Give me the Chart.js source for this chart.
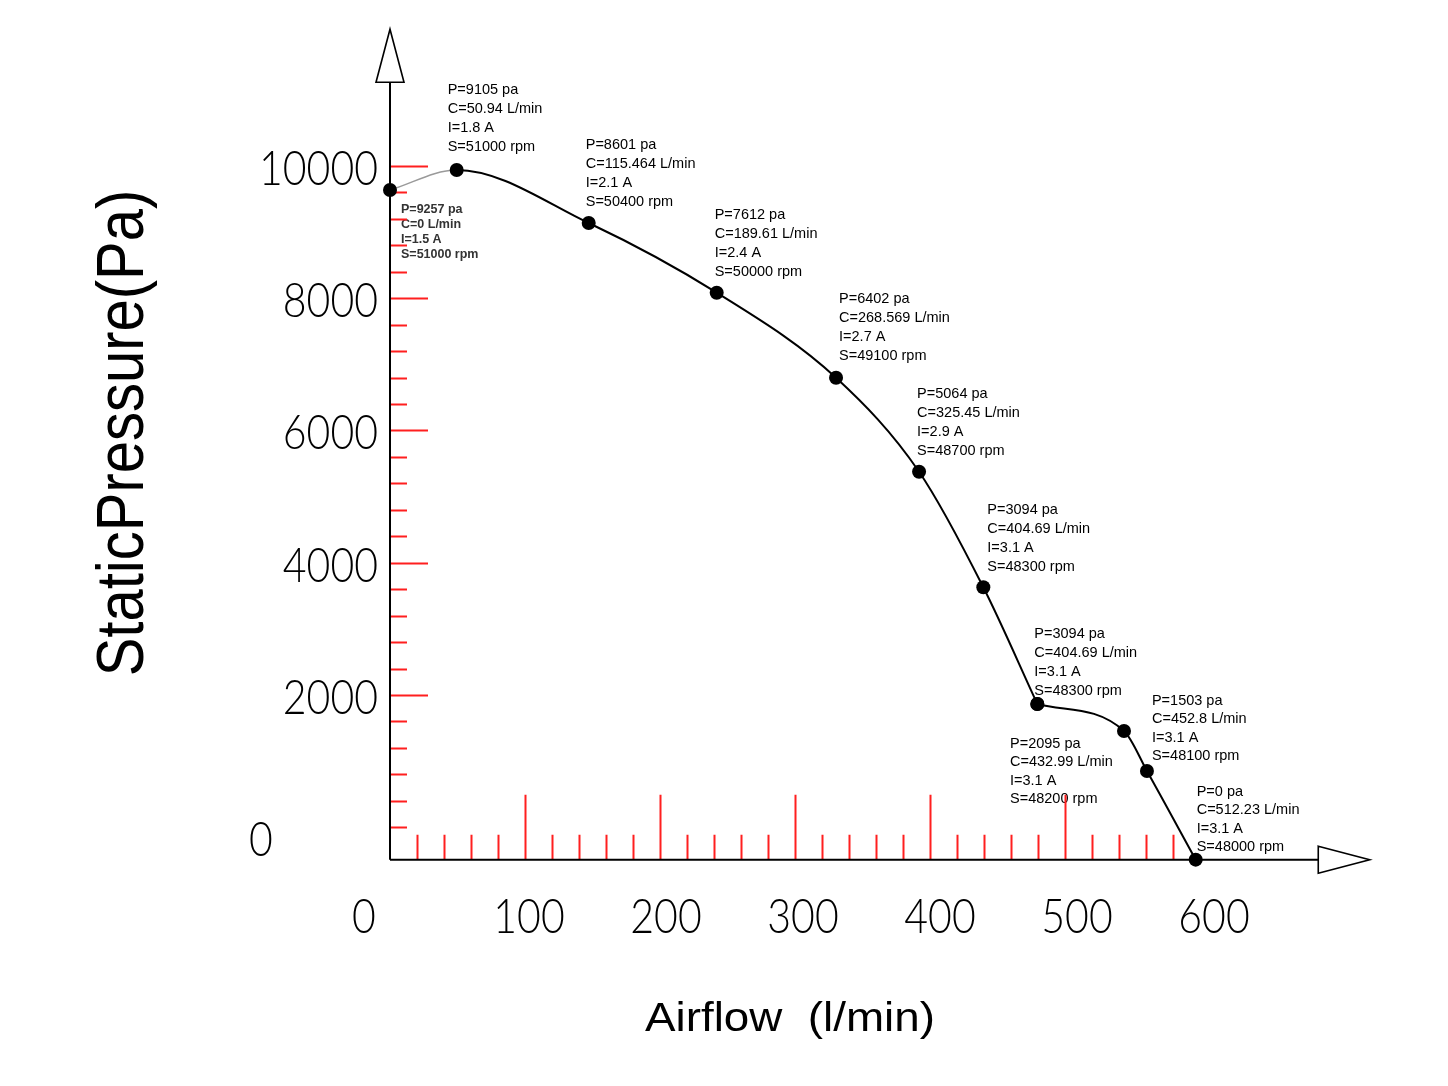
<!DOCTYPE html>
<html>
<head>
<meta charset="utf-8">
<script src="https://cdn.jsdelivr.net/npm/chart.js@4.4.0/dist/chart.umd.min.js"></script>
<style>
  body { margin: 0; background: #fff; }
  canvas { display: block; }
</style>
</head>
<body>
<canvas id="fanChart" width="1448" height="1086"></canvas>
<script>
// curve points (airflow l/min, static pressure Pa)
const airflow  = [0, 49.4, 147.2, 242.0, 330.4, 391.9, 439.5, 479.5, 543.7, 560.7, 596.8];
const pressure = [9637, 9940, 9138, 8084, 6798, 5377, 3629, 1864, 1456, 851, -490];
// the drawn curve has a corner at this point
const cornerIndex = 7;

// text printed next to each point
const labelP = ['9257', '9105', '8601', '7612', '6402', '5064', '3094', '3094', '2095', '1503', '0'];
const labelC = ['0', '50.94', '115.464', '189.61', '268.569', '325.45', '404.69', '404.69', '432.99', '452.8', '512.23'];
const labelI = ['1.5', '1.8', '2.1', '2.4', '2.7', '2.9', '3.1', '3.1', '3.1', '3.1', '3.1'];
const labelS = ['51000', '51000', '50400', '50000', '49100', '48700', '48300', '48300', '48200', '48100', '48000'];

// axis ticks
const xTickLabels = [0, 100, 200, 300, 400, 500, 600];
const yTickLabels = [0, 2000, 4000, 6000, 8000, 10000];
const xMinorStep = 20, xMinorMax = 580;
const yMinorStep = 400, yMinorMax = 10000;

// where each text block sits relative to its point (px)
const labelOffsets = [[11, 20], [-9, -80], [-3, -78], [-2, -78], [3, -79], [-2, -78],
                      [4, -77], [-3, -70], [-114, 13], [5, -70], [1, -68]];

const RED = '#ff1f1f';

const drawingPlugin = {
  id: 'drawing',
  beforeDatasetsDraw(chart) {
    const ctx = chart.ctx;
    const xs = chart.scales.x, ys = chart.scales.y;
    const x0 = xs.getPixelForValue(0);
    const yAxis = ys.getPixelForValue(ys.min);

    // point texts
    ctx.save();
    ctx.textBaseline = 'middle';
    ctx.textAlign = 'left';
    airflow.forEach((a, i) => {
      const px = xs.getPixelForValue(a), py = ys.getPixelForValue(pressure[i]);
      const [dx, dy] = labelOffsets[i];
      const small = i === 0;
      ctx.font = small ? 'bold 12.5px "Liberation Sans", Arial' : '14.5px "Liberation Sans", Arial';
      ctx.fillStyle = small ? '#333' : '#000';
      const lh = small ? 14.7 : (i >= 8 ? 18.5 : 19);
      const lines = ['P=' + labelP[i] + ' pa', 'C=' + labelC[i] + ' L/min', 'I=' + labelI[i] + ' A', 'S=' + labelS[i] + ' rpm'];
      lines.forEach((t, k) => ctx.fillText(t, px + dx, py + dy + k * lh));
    });
    ctx.restore();

    // red ticks
    ctx.save();
    ctx.strokeStyle = RED;
    ctx.lineWidth = 2;
    ctx.beginPath();
    for (let v = 0; v <= yMinorMax; v += yMinorStep) {
      const py = Math.round(ys.getPixelForValue(v)) + 0.5;
      const major = v > 0 && v % 2000 === 0;
      ctx.moveTo(x0, py);
      ctx.lineTo(x0 + (major ? 38 : 17), py);
    }
    for (let v = xMinorStep; v <= xMinorMax; v += xMinorStep) {
      const px = Math.round(xs.getPixelForValue(v)) + 0.5;
      const major = v % 100 === 0;
      ctx.moveTo(px, yAxis);
      ctx.lineTo(px, yAxis - (major ? 65 : 25));
    }
    ctx.stroke();
    ctx.restore();

    // axes with hollow arrows
    ctx.save();
    ctx.strokeStyle = '#000';
    ctx.lineWidth = 2;
    const yTop = ys.getPixelForValue(11266), yTip = ys.getPixelForValue(12068);
    const xEnd = xs.getPixelForValue(687.6), xTip = xs.getPixelForValue(725.7);
    ctx.beginPath();
    ctx.moveTo(x0, yAxis);
    ctx.lineTo(x0, yTop);
    ctx.moveTo(x0, yAxis);
    ctx.lineTo(xEnd, yAxis);
    ctx.stroke();
    ctx.lineWidth = 1.6;
    ctx.fillStyle = '#fff';
    ctx.beginPath();
    ctx.moveTo(x0 - 14, yTop);
    ctx.lineTo(x0, yTip);
    ctx.lineTo(x0 + 14, yTop);
    ctx.closePath();
    ctx.fill();
    ctx.stroke();
    ctx.beginPath();
    ctx.moveTo(xEnd, yAxis - 13.5);
    ctx.lineTo(xTip, yAxis);
    ctx.lineTo(xEnd, yAxis + 13.5);
    ctx.closePath();
    ctx.fill();
    ctx.stroke();
    ctx.restore();

    // tick numbers, thin narrow CAD-like style
    ctx.save();
    ctx.fillStyle = '#000';
    ctx.font = '300 48px Lato, "DejaVu Sans"';
    ctx.textBaseline = 'alphabetic';
    const sx = 119 / ctx.measureText('10000').width;
    yTickLabels.forEach(v => {
      const py = ys.getPixelForValue(v);
      ctx.save();
      if (v === 0) {
        ctx.translate(x0 - 129, 856);
        ctx.textAlign = 'center';
      } else {
        ctx.translate(x0 - 12, py + 19);
        ctx.textAlign = 'right';
      }
      ctx.scale(sx, 1);
      ctx.fillText(String(v), 0, 0);
      ctx.restore();
    });
    xTickLabels.forEach(v => {
      const px = xs.getPixelForValue(v) + (v === 0 ? -26 : 2 + v / 50);
      ctx.save();
      ctx.translate(px, yAxis + 73.5);
      ctx.textAlign = 'center';
      ctx.scale(sx, 1);
      ctx.fillText(String(v), 0, 0);
      ctx.restore();
    });
    ctx.restore();

    // axis titles
    ctx.save();
    ctx.fillStyle = '#000';
    ctx.textAlign = 'center';
    ctx.textBaseline = 'middle';
    ctx.font = '58px "Liberation Sans", Arial';
    ctx.translate(125, 433);
    ctx.scale(1.14, 1);
    ctx.rotate(-Math.PI / 2);
    ctx.fillText('StaticPressure(Pa)', 0, 0);
    ctx.restore();

    ctx.save();
    ctx.fillStyle = '#000';
    ctx.textAlign = 'center';
    ctx.textBaseline = 'middle';
    ctx.font = '40px "Liberation Sans", Arial';
    const title = 'Airflow  (l/min)';
    const tsx = 290 / ctx.measureText(title).width;
    ctx.translate(790, 1020);
    ctx.scale(tsx, 1);
    ctx.fillText(title, 0, 0);
    ctx.restore();
  }
};

const points = airflow.map((a, i) => ({ x: a, y: pressure[i] }));
const curveStyle = {
  borderColor: '#000',
  borderWidth: 2,
  cubicInterpolationMode: 'monotone',
  pointRadius: 7,
  pointHoverRadius: 7,
  pointBackgroundColor: '#000',
  pointBorderWidth: 0,
  clip: false
};

new Chart(document.getElementById('fanChart'), {
  type: 'line',
  data: {
    datasets: [
      {
        ...curveStyle,
        data: points.slice(0, cornerIndex + 1),
        segment: {
          borderColor: c => c.p0DataIndex === 0 ? '#9a9a9a' : '#000',
          borderWidth: c => c.p0DataIndex === 0 ? 1.5 : 2
        }
      },
      { ...curveStyle, data: points.slice(cornerIndex) }
    ]
  },
  options: {
    responsive: false,
    animation: false,
    layout: { padding: { left: 390, right: 113, top: 33.75, bottom: 226.35 } },
    scales: {
      x: { type: 'linear', min: 0, max: 700, display: false },
      y: { type: 'linear', min: -490, max: 12000, display: false }
    },
    plugins: {
      legend: { display: false },
      tooltip: { enabled: false }
    }
  },
  plugins: [drawingPlugin]
});
</script>
</body>
</html>
